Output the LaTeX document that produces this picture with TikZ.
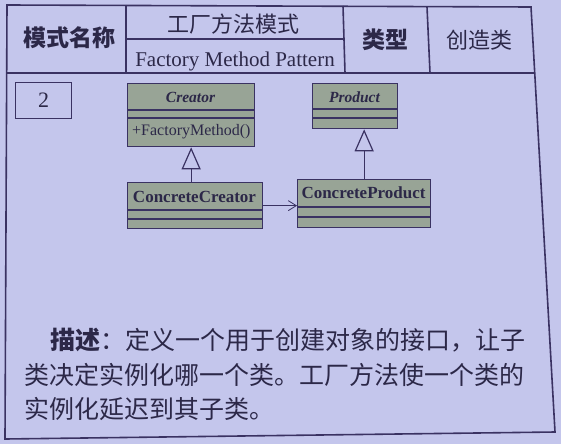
\documentclass[tikz,border=0pt]{standalone}
\usepackage{fontspec}
\setmainfont{Liberation Serif}
\newfontfamily\cjk{Noto Sans CJK SC}
\usetikzlibrary{arrows.meta}
\definecolor{paper}{RGB}{196,198,236}
\definecolor{ink}{RGB}{58,50,98}
\definecolor{txt}{RGB}{44,40,72}
\definecolor{umlfill}{RGB}{152,164,150}

\begin{document}
\begin{tikzpicture}[x=1pt,y=-1pt,
  frame/.style={draw=ink,line width=1.6pt},
  cell/.style={inner sep=0pt,text=txt},
  classbox/.style={draw=ink,fill=umlfill,line width=1.3pt,inner sep=0pt,anchor=north west},
  compline/.style={draw=ink,line width=1.1pt},
  abstractname/.style={inner sep=0pt,text=txt,font=\fontsize{15.5}{18}\selectfont\bfseries\itshape},
  concretename/.style={inner sep=0pt,text=txt,font=\fontsize{17}{20}\selectfont\bfseries},
  inherit/.style={draw=ink,line width=1.2pt,-{Triangle[open,length=22pt,width=19pt]}},
  depend/.style={draw=ink,line width=0.8pt,-{Straight Barb[length=8pt,width=10pt]}},
  desc/.style={inner sep=0pt,text=txt,anchor=west,font=\cjk\fontsize{25}{30}\selectfont}
]
\useasboundingbox (0,0) rectangle (561,444);
\fill[paper] (0,0) rectangle (561,444);

% outer frame and header grid
\draw[frame] (7,5) -- (531,7) -- (555,432) -- (5,439) -- cycle;
\draw[frame] (6,73) -- (535,73);
\draw[frame] (126,5) -- (126,73);
\draw[frame] (343,6) -- (345,73);
\draw[frame] (427,7) -- (430,73);
\draw[frame] (126,39) -- (344,39);

% header texts
\node[cell,font=\cjk\fontsize{23}{26}\selectfont\bfseries] (mname) at (69,38) {模式名称};
\node[cell,font=\cjk\fontsize{22}{26}\selectfont] (patcn) at (233,24) {工厂方法模式};
\node[cell,font=\fontsize{21}{24}\selectfont] (paten) at (235,61) {Factory Method Pattern};
\node[cell,font=\cjk\fontsize{23}{26}\selectfont\bfseries] (kind) at (385,40) {类型};
\node[cell,font=\cjk\fontsize{22}{26}\selectfont] (kindv) at (479,40) {创造类};

% number box
\node[draw=ink,line width=1.2pt,inner sep=0pt,minimum width=56pt,minimum height=36pt,
      anchor=north west,text=txt,font=\fontsize{22}{24}\selectfont] (num) at (15,82) {2};

% classes
\node[classbox,minimum width=127pt,minimum height=63pt] (creator) at (127,83) {};
\draw[compline] (127,110) -- (254,110);
\draw[compline] (127,118) -- (254,118);
\node[abstractname] (creatorT) at (190.5,97) {Creator};
\node[cell,anchor=west,font=\fontsize{16}{18}\selectfont] (creatorM) at (132,132) {+FactoryMethod()};

\node[classbox,minimum width=85pt,minimum height=45pt] (product) at (312,83) {};
\draw[compline] (312,109) -- (397,109);
\draw[compline] (312,118) -- (397,118);
\node[abstractname] (productT) at (354.5,97) {Product};

\node[classbox,minimum width=135pt,minimum height=46pt] (ccreator) at (127,182) {};
\draw[compline] (127,210) -- (262,210);
\draw[compline] (127,219) -- (262,219);
\node[concretename] (ccreatorT) at (194.5,197) {ConcreteCreator};

\node[classbox,minimum width=133pt,minimum height=48pt] (cproduct) at (297,179) {};
\draw[compline] (297,207) -- (430,207);
\draw[compline] (297,217) -- (430,217);
\node[concretename] (cproductT) at (363.5,193) {ConcreteProduct};

% relations
\draw[inherit] (creator.south |- ccreator.north) -- (creator.south);
\draw[inherit] (cproduct.north) -- (cproduct.north |- product.south);
\draw[depend] (ccreator.east) -- (ccreator.east -| cproduct.west);

% description
\node[desc] (d1) at (50,340) {\textbf{描述}：定义一个用于创建对象的接口，让子};
\node[desc] (d2) at (24,375) {类决定实例化哪一个类。工厂方法使一个类的};
\node[desc] (d3) at (24,409) {实例化延迟到其子类。};
\end{tikzpicture}
\end{document}
